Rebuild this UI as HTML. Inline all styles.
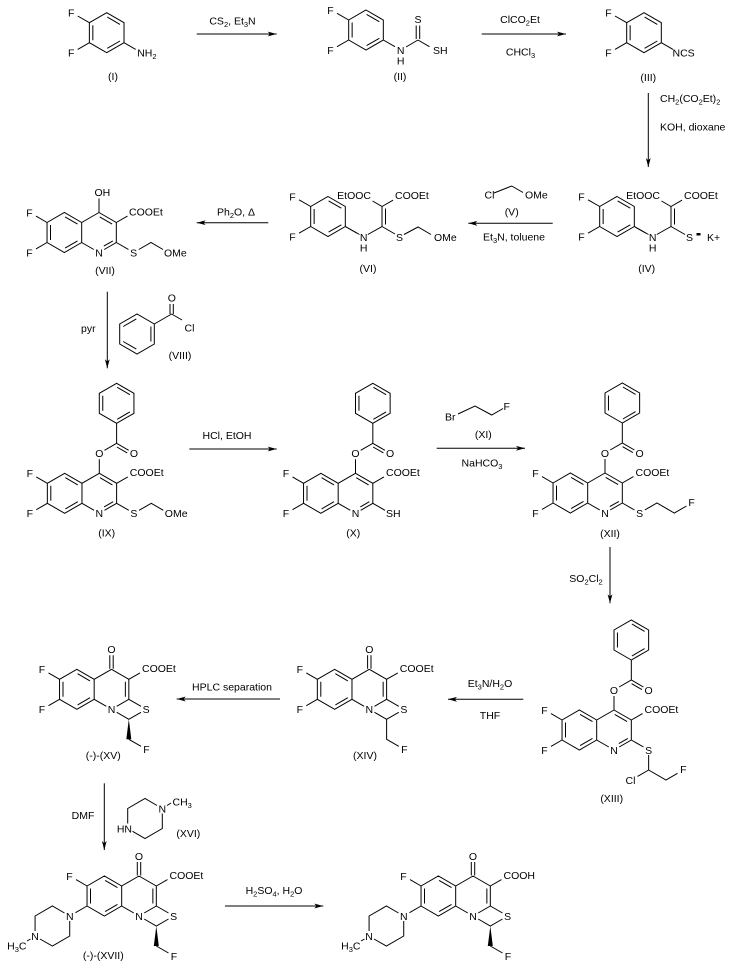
<!DOCTYPE html>
<html><head><meta charset="utf-8"><style>
html,body{margin:0;padding:0;background:#fff;}
svg{display:block;}
text{font-family:"Liberation Sans",Arial,sans-serif;font-size:10.5px;fill:#000;stroke:none;}
.m{text-anchor:middle;}
.e{text-anchor:end;}
.s{font-size:7.5px;}
</style></head><body>
<svg width="740" height="967" viewBox="0 0 740 967" xmlns="http://www.w3.org/2000/svg">
<defs>
<marker id="ah" markerWidth="10" markerHeight="6" refX="9" refY="3" orient="auto" markerUnits="userSpaceOnUse"><path d="M0,0.6 L9,3 L0,5.4 L2.2,3 Z" fill="#000" stroke="none"/></marker>
<path id="qc" fill="none" stroke="#000" stroke-width="1" d="M0,0L17.32,10L17.32,30L5.2,37M-5.2,37L-17.32,30L-17.32,10L0,0M-17.32,10L-34.64,0L-51.96,10L-51.96,30L-34.64,40L-17.32,30M-48.5,12.5L-48.5,27.5M-33.9,4.4L-21.5,11.6M-33.9,35.6L-21.5,28.4"/>
<path id="qAr" fill="none" stroke="#000" stroke-width="1" d="M0.7,4.4L13.1,11.6M13.86,28.4L4.8,33.6"/>
<path id="qOx" fill="none" stroke="#000" stroke-width="1" d="M13.86,12.5L13.86,27.5M-1.7,-0.5L-1.7,-14M1.7,-0.5L1.7,-14"/>
<path id="F2" fill="none" stroke="#000" stroke-width="1" d="M-51.96,10L-63,3.6M-51.96,30L-63,36.4"/>
<path id="bz" fill="none" stroke="#000" stroke-width="1" d="M0,0L0,-14M5.2,-23L17.32,-30L29.4,-23M17.6,-26.3L27.9,-20.4M17.32,-30L17.32,-50M17.32,-50L0,-60L0,-80L17.32,-90L34.64,-80L34.64,-60Z M3.46,-62.5L3.46,-77.5M17.9,-86L30.6,-78.6M30.6,-61.4L17.9,-54"/>
<path id="cooB" fill="none" stroke="#000" stroke-width="1" d="M17.32,10L28.5,3.6M17.32,30L29.5,37"/>
<path id="tz" fill="none" stroke="#000" stroke-width="1" d="M17.32,10L28.5,3.6M17.32,30L29.5,37M29.5,43L17.32,50L5.2,43"/>
<path id="dfp" fill="none" stroke="#000" stroke-width="1" d="M0,-20L17.32,-10L17.32,10L0,20L-17.32,10L-17.32,-10Z M-13.86,-7.5L-13.86,7.5M0.6,-15.6L13.3,-8.3M13.3,8.3L0.6,15.6M-17.32,-10L-29,-16.7M-17.32,10L-29,16.7M17.32,10L29,16.7"/>
<path id="pipz" fill="none" stroke="#000" stroke-width="1" d="M-51.96,10L-63,3.6M-51.96,30L-63.5,36.7M-74.5,37L-86.6,30L-103.92,40L-103.92,55M-99,63L-86.6,70L-69.28,60L-69.28,45M-108.5,63L-112,65"/>
<g id="wedge"><polygon points="17.32,50 14.8,70 19.8,70" fill="#000" stroke="none"/><path d="M17.32,70L29.5,77" fill="none" stroke="#000" stroke-width="1"/></g>
</defs>

<g fill="none" stroke="#000" stroke-width="1">
<!-- arrows -->
<line x1="196.7" y1="34" x2="276.7" y2="34" marker-end="url(#ah)"/>
<line x1="481.7" y1="34" x2="566" y2="34" marker-end="url(#ah)"/>
<line x1="648.3" y1="93" x2="648.3" y2="167" marker-end="url(#ah)"/>
<line x1="552.7" y1="223.3" x2="468.3" y2="223.3" marker-end="url(#ah)"/>
<line x1="268.3" y1="222.7" x2="196.7" y2="222.7" marker-end="url(#ah)"/>
<line x1="107.3" y1="291.7" x2="107.3" y2="368.3" marker-end="url(#ah)"/>
<line x1="189.3" y1="449" x2="276.7" y2="449" marker-end="url(#ah)"/>
<line x1="436.7" y1="448.3" x2="525" y2="448.3" marker-end="url(#ah)"/>
<line x1="610" y1="547" x2="610" y2="603.3" marker-end="url(#ah)"/>
<line x1="523.3" y1="699.3" x2="448" y2="699.3" marker-end="url(#ah)"/>
<line x1="280" y1="699" x2="176.7" y2="699" marker-end="url(#ah)"/>
<line x1="104.3" y1="783.3" x2="104.3" y2="850" marker-end="url(#ah)"/>
<line x1="225" y1="906" x2="323.3" y2="906" marker-end="url(#ah)"/>

<!-- reagent V -->
<path d="M494,193L511.7,186L523,192.5"/>
<!-- reagent XI -->
<path d="M458,414L475,406L491.7,415L503,408.5"/>
<!-- VIII -->
<path d="M119.7,324L137,314L154.3,324L154.3,344L137,354L119.7,344Z M123.2,326.5L136.3,318.9 M150.9,326.5L150.9,341.5 M136.3,349.1L123.2,341.5 M154.3,324L171.6,314 M170,314L170,304 M173.3,314L173.3,304 M171.6,314L182,320"/>
<!-- XVI -->
<path d="M157,805.5L145,798.5L127.7,808.5L127.7,823.5M132.5,831.3L145,838.5L162.3,828.5L162.3,813.5M167,805.5L171,803"/>
<!-- IV chain -->
<path d="M634.3,226.5L648.5,234.5M656.8,234.5L671,226.5M671,226.5L671,206.5M674.5,224.5L674.5,208.5M671,206.5L661.5,201M671,206.5L682,200.2M671,226.5L685,234.5"/>
<!-- VI chain -->
<path d="M345.3,226.5L359.5,234.5M367.8,234.5L382,226.5M382,226.5L382,206.5M385.5,224.5L385.5,208.5M382,206.5L372.5,201M382,206.5L393,200.2M382,226.5L395,234M404,234.5L418,227L431,234.5"/>
</g>
<rect x="696.5" y="233" width="4" height="2.5" fill="#000"/>

<!-- (I) -->
<g transform="translate(106.7,32.7)">
<use href="#dfp"/>
<text class="m" x="-35.5" y="-16.2">F</text>
<text class="m" x="-35.5" y="23.8">F</text>
<text x="30.5" y="23.8">NH<tspan class="s" dy="2.5">2</tspan></text>
</g>
<text class="m" x="113" y="80">(I)</text>
<text class="m" x="232.5" y="24.5">CS<tspan class="s" dy="2.5">2</tspan><tspan dy="-2.5">, Et</tspan><tspan class="s" dy="2.5">3</tspan><tspan dy="-2.5">N</tspan></text>

<!-- (II) -->
<g transform="translate(366,30)">
<use href="#dfp"/>
<path d="M40,17L51.96,10M50.2,9L50.2,-4.5M53.7,9L53.7,-4.5M51.96,10L63.5,16.7" fill="none" stroke="#000" stroke-width="1"/>
<text class="m" x="-35.5" y="-16.2">F</text>
<text class="m" x="-35.5" y="23.8">F</text>
<text class="m" x="34.64" y="23.8">N</text>
<text class="m" x="34.64" y="34.3">H</text>
<text class="m" x="51.96" y="-6.8">S</text>
<text x="67" y="23.8">SH</text>
</g>
<text class="m" x="400" y="80">(II)</text>
<text class="m" x="520" y="23">ClCO<tspan class="s" dy="2.5">2</tspan><tspan dy="-2.5">Et</tspan></text>
<text class="m" x="520.5" y="55.5">CHCl<tspan class="s" dy="2.5">3</tspan></text>

<!-- (III) -->
<g transform="translate(644,32.7)">
<use href="#dfp"/>
<text class="m" x="-35.5" y="-16.2">F</text>
<text class="m" x="-35.5" y="23.8">F</text>
<text x="28.5" y="23.8">NCS</text>
</g>
<text class="m" x="648.3" y="81">(III)</text>
<text x="660" y="102">CH<tspan class="s" dy="2.5">2</tspan><tspan dy="-2.5">(CO</tspan><tspan class="s" dy="2.5">2</tspan><tspan dy="-2.5">Et)</tspan><tspan class="s" dy="2.5">2</tspan></text>
<text x="660" y="130.5">KOH, dioxane</text>

<!-- (IV) -->
<g transform="translate(617,216.5)">
<use href="#dfp"/>
<text class="m" x="-35.5" y="-16.2">F</text>
<text class="m" x="-35.5" y="23.8">F</text>
</g>
<text class="m" x="652.7" y="241">N</text>
<text class="m" x="652.7" y="251.5">H</text>
<text class="e" x="660" y="199">EtOOC</text>
<text x="684" y="199">COOEt</text>
<text class="m" x="689.5" y="241">S</text>
<text x="707" y="241">K+</text>
<text class="m" x="646.7" y="272">(IV)</text>

<!-- reagent V -->
<text x="484.5" y="198.5">Cl</text>
<text x="525" y="198.5">OMe</text>
<text class="m" x="511.7" y="215.5">(V)</text>
<text class="m" x="514" y="240.5">Et<tspan class="s" dy="2.5">3</tspan><tspan dy="-2.5">N, toluene</tspan></text>

<!-- (VI) -->
<g transform="translate(328,216.5)">
<use href="#dfp"/>
<text class="m" x="-35.5" y="-16.2">F</text>
<text class="m" x="-35.5" y="23.8">F</text>
</g>
<text class="m" x="363.7" y="241">N</text>
<text class="m" x="363.7" y="251.5">H</text>
<text class="e" x="371" y="199">EtOOC</text>
<text x="395" y="199">COOEt</text>
<text class="m" x="399.5" y="241">S</text>
<text x="434" y="241">OMe</text>
<text class="m" x="368" y="272">(VI)</text>
<text class="m" x="236" y="215.5">Ph<tspan class="s" dy="2.5">2</tspan><tspan dy="-2.5">O, Δ</tspan></text>

<!-- (VII) -->
<g transform="translate(99,212.5)">
<use href="#qc"/><use href="#qAr"/><use href="#F2"/><use href="#cooB"/>
<path d="M0,0L0,-14M39.8,37L51.96,30L64,37" fill="none" stroke="#000" stroke-width="1"/>
<text x="-4.5" y="-16.5">OH</text>
<text x="30" y="3">COOEt</text>
<text class="m" x="0" y="43.8">N</text>
<text class="m" x="34.64" y="43.8">S</text>
<text x="65" y="43.8">OMe</text>
<text class="m" x="-69.5" y="3.8">F</text>
<text class="m" x="-69.5" y="43.8">F</text>
</g>
<text class="m" x="105" y="274">(VII)</text>

<!-- VIII -->
<text class="m" x="88.3" y="332">pyr</text>
<text class="m" x="171.8" y="301.5">O</text>
<text x="184.5" y="331.5">Cl</text>
<text class="m" x="180" y="358.8">(VIII)</text>

<!-- (IX) -->
<g transform="translate(99.3,473.3)">
<use href="#qc"/><use href="#qAr"/><use href="#F2"/><use href="#bz"/><use href="#cooB"/>
<path d="M39.8,37L51.96,30L64,37" fill="none" stroke="#000" stroke-width="1"/>
<text class="m" x="0" y="-16.2">O</text>
<text class="m" x="34.64" y="-16.2">O</text>
<text x="30.5" y="2.8">COOEt</text>
<text class="m" x="0" y="43.8">N</text>
<text class="m" x="34.64" y="43.8">S</text>
<text x="65.5" y="43.8">OMe</text>
<text class="m" x="-69.5" y="3.8">F</text>
<text class="m" x="-69.5" y="43.8">F</text>
</g>
<text class="m" x="106.7" y="536.5">(IX)</text>
<text class="m" x="227" y="438.8">HCl, EtOH</text>

<!-- (X) -->
<g transform="translate(355.5,473.3)">
<use href="#qc"/><use href="#qAr"/><use href="#F2"/><use href="#bz"/><use href="#cooB"/>
<text class="m" x="0" y="-16.2">O</text>
<text class="m" x="34.64" y="-16.2">O</text>
<text x="30.5" y="2.8">COOEt</text>
<text class="m" x="0" y="43.8">N</text>
<text x="30.5" y="43.8">SH</text>
<text class="m" x="-69.5" y="3.8">F</text>
<text class="m" x="-69.5" y="43.8">F</text>
</g>
<text class="m" x="353.3" y="536.5">(X)</text>

<!-- reagent XI -->
<text x="445" y="420.5">Br</text>
<text x="503.5" y="410">F</text>
<text class="m" x="483.3" y="437.8">(XI)</text>
<text class="m" x="482" y="466.5">NaHCO<tspan class="s" dy="2.5">3</tspan></text>

<!-- (XII) -->
<g transform="translate(605,473)">
<use href="#qc"/><use href="#qAr"/><use href="#F2"/><use href="#bz"/><use href="#cooB"/>
<path d="M39.8,37L51.96,30L69.28,40L81.5,33" fill="none" stroke="#000" stroke-width="1"/>
<text class="m" x="0" y="-16.2">O</text>
<text class="m" x="34.64" y="-16.2">O</text>
<text x="30.5" y="2.8">COOEt</text>
<text class="m" x="0" y="43.8">N</text>
<text class="m" x="34.64" y="43.8">S</text>
<text class="m" x="86.6" y="32.8">F</text>
<text class="m" x="-69.5" y="3.8">F</text>
<text class="m" x="-69.5" y="43.8">F</text>
</g>
<text class="m" x="610" y="537">(XII)</text>
<text class="m" x="586" y="582">SO<tspan class="s" dy="2.5">2</tspan><tspan dy="-2.5">Cl</tspan><tspan class="s" dy="2.5">2</tspan></text>

<!-- (XIII) -->
<g transform="translate(614,710)">
<use href="#qc"/><use href="#qAr"/><use href="#F2"/><use href="#bz"/><use href="#cooB"/>
<path d="M34.64,45L34.64,60L23.5,66.4M34.64,60L51.96,70L63.5,63.3" fill="none" stroke="#000" stroke-width="1"/>
<text class="m" x="0" y="-16.2">O</text>
<text class="m" x="34.64" y="-16.2">O</text>
<text x="30.5" y="2.8">COOEt</text>
<text class="m" x="0" y="43.8">N</text>
<text class="m" x="34.64" y="43.8">S</text>
<text class="m" x="16.5" y="73.8">Cl</text>
<text class="m" x="69.28" y="62.8">F</text>
<text class="m" x="-69.5" y="3.8">F</text>
<text class="m" x="-69.5" y="43.8">F</text>
</g>
<text class="m" x="611.7" y="802">(XIII)</text>
<text class="m" x="490" y="687">Et<tspan class="s" dy="2.5">3</tspan><tspan dy="-2.5">N/H</tspan><tspan class="s" dy="2.5">2</tspan><tspan dy="-2.5">O</tspan></text>
<text class="m" x="490" y="718.8">THF</text>

<!-- (XIV) -->
<g transform="translate(369.3,669.3)">
<use href="#qc"/><use href="#qOx"/><use href="#F2"/><use href="#tz"/>
<path d="M17.32,50L17.32,70L29.5,77" fill="none" stroke="#000" stroke-width="1"/>
<text class="m" x="0" y="-16.2">O</text>
<text x="30.5" y="2.8">COOEt</text>
<text class="m" x="0" y="43.8">N</text>
<text class="m" x="34.64" y="43.8">S</text>
<text class="m" x="35" y="83.8">F</text>
<text class="m" x="-69.5" y="3.8">F</text>
<text class="m" x="-69.5" y="43.8">F</text>
</g>
<text class="m" x="365" y="758.8">(XIV)</text>
<text class="m" x="232" y="690.5">HPLC separation</text>

<!-- (-)-(XV) -->
<g transform="translate(111.5,669.3)">
<use href="#qc"/><use href="#qOx"/><use href="#F2"/><use href="#tz"/><use href="#wedge"/>
<text class="m" x="0" y="-16.2">O</text>
<text x="30.5" y="2.8">COOEt</text>
<text class="m" x="0" y="43.8">N</text>
<text class="m" x="34.64" y="43.8">S</text>
<text class="m" x="35" y="83.8">F</text>
<text class="m" x="-69.5" y="3.8">F</text>
<text class="m" x="-69.5" y="43.8">F</text>
</g>
<text class="m" x="103.3" y="758.8">(-)-(XV)</text>
<text class="m" x="83" y="818.8">DMF</text>

<!-- XVI -->
<text class="m" x="162.3" y="812.3">N</text>
<text class="e" x="132" y="832.3">HN</text>
<text x="172.5" y="805.5">CH<tspan class="s" dy="2.5">3</tspan></text>
<text class="m" x="188.3" y="837">(XVI)</text>

<!-- (-)-(XVII) -->
<g transform="translate(139,876)">
<use href="#qc"/><use href="#qOx"/><use href="#tz"/><use href="#pipz"/><use href="#wedge"/>
<text class="m" x="0" y="-16.2">O</text>
<text x="30.5" y="2.8">COOEt</text>
<text class="m" x="0" y="43.8">N</text>
<text class="m" x="34.64" y="43.8">S</text>
<text class="m" x="35" y="83.8">F</text>
<text class="m" x="-69.5" y="3.8">F</text>
<text class="m" x="-69.28" y="43.8">N</text>
<text class="m" x="-103.92" y="63.8">N</text>
<text class="e" x="-112.5" y="73.5">H<tspan class="s" dy="2.5">3</tspan><tspan dy="-2.5">C</tspan></text>
</g>
<text class="m" x="103.3" y="958.8">(-)-(XVII)</text>
<text class="m" x="274" y="893.8">H<tspan class="s" dy="2.5">2</tspan><tspan dy="-2.5">SO</tspan><tspan class="s" dy="2.5">4</tspan><tspan dy="-2.5">, H</tspan><tspan class="s" dy="2.5">2</tspan><tspan dy="-2.5">O</tspan></text>

<!-- final product -->
<g transform="translate(473,876)">
<use href="#qc"/><use href="#qOx"/><use href="#tz"/><use href="#pipz"/><use href="#wedge"/>
<text class="m" x="0" y="-16.2">O</text>
<text x="30.5" y="2.8">COOH</text>
<text class="m" x="0" y="43.8">N</text>
<text class="m" x="34.64" y="43.8">S</text>
<text class="m" x="35" y="83.8">F</text>
<text class="m" x="-69.5" y="3.8">F</text>
<text class="m" x="-69.28" y="43.8">N</text>
<text class="m" x="-103.92" y="63.8">N</text>
<text class="e" x="-112.5" y="73.5">H<tspan class="s" dy="2.5">3</tspan><tspan dy="-2.5">C</tspan></text>
</g>
</svg>
</body></html>
